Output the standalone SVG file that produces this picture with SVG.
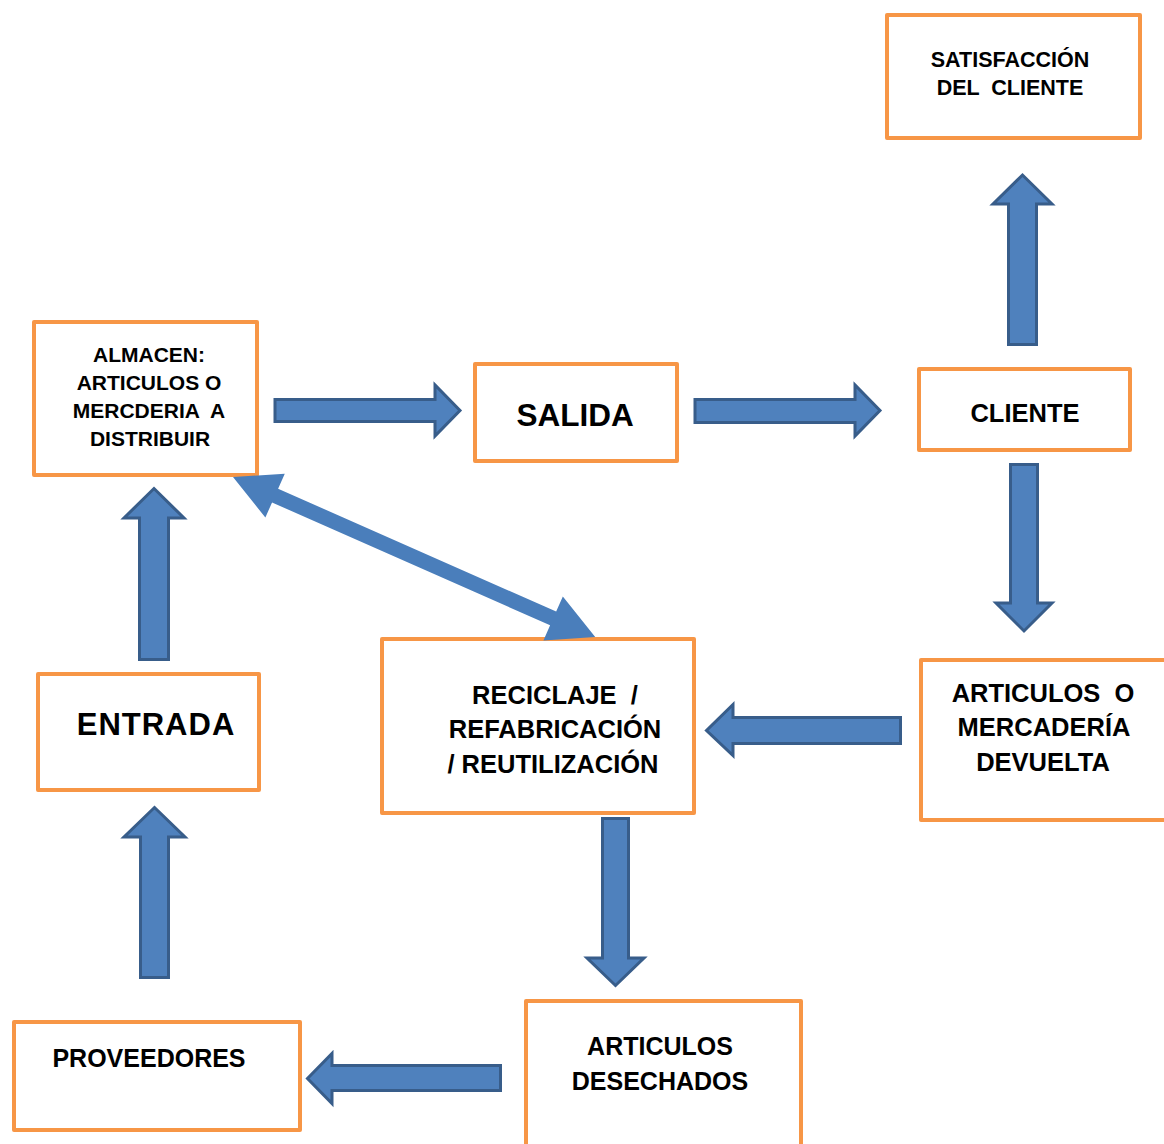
<svg xmlns="http://www.w3.org/2000/svg" width="1164" height="1144" viewBox="0 0 1164 1144">
<style>
.box{fill:#fff;stroke:#F79646;stroke-width:4;stroke-linejoin:round}
.t{font-family:"Liberation Sans",Arial,sans-serif;font-weight:bold;fill:#000;text-anchor:middle;white-space:pre}
.blk{fill:#4F81BD;stroke:#385D8A;stroke-width:3;stroke-linejoin:miter}
.dbl{fill:#4A7EBB}
</style>
<rect width="1164" height="1144" fill="#fff"/>
<g id="satisfaccion">
<rect class="box" x="887" y="15" width="253" height="123"/>
<text class="t" font-size="21.5" x="1010" y="67">SATISFACCIÓN</text>
<text class="t" font-size="21.5" x="1010" y="95">DEL  CLIENTE</text>
</g>
<g id="almacen">
<rect class="box" x="34" y="322" width="223" height="153"/>
<text class="t" font-size="21" x="149" y="362">ALMACEN:</text>
<text class="t" font-size="21" x="149" y="390">ARTICULOS O</text>
<text class="t" font-size="21" x="149" y="418">MERCDERIA  A</text>
<text class="t" font-size="21" x="150" y="446">DISTRIBUIR</text>
</g>
<g id="salida">
<rect class="box" x="475" y="364" width="202" height="97"/>
<text class="t" font-size="31.5" x="575" y="426">SALIDA</text>
</g>
<g id="cliente">
<rect class="box" x="919" y="369" width="211" height="81"/>
<text class="t" font-size="25.5" x="1025" y="422">CLIENTE</text>
</g>
<g id="devuelta">
<rect class="box" x="921" y="660" width="260" height="160"/>
<text class="t" font-size="25.5" x="1043" y="702">ARTICULOS  O</text>
<text class="t" font-size="25.5" x="1044" y="736">MERCADERÍA</text>
<text class="t" font-size="25.5" x="1043" y="771">DEVUELTA</text>
</g>
<g id="reciclaje">
<rect class="box" x="382" y="639" width="312" height="174"/>
<text class="t" font-size="25.5" x="555" y="704">RECICLAJE  /</text>
<text class="t" font-size="25.5" x="555" y="738">REFABRICACIÓN</text>
<text class="t" font-size="25.5" x="553" y="773">/ REUTILIZACIÓN</text>
</g>
<g id="entrada">
<rect class="box" x="38" y="674" width="221" height="116"/>
<text class="t" font-size="31" letter-spacing="1" x="156" y="735">ENTRADA</text>
</g>
<g id="proveedores">
<rect class="box" x="14" y="1022" width="286" height="108"/>
<text class="t" font-size="25" x="149" y="1067">PROVEEDORES</text>
</g>
<g id="desechados">
<rect class="box" x="526" y="1001" width="275" height="160"/>
<text class="t" font-size="25" x="660" y="1055">ARTICULOS</text>
<text class="t" font-size="25" x="660" y="1090">DESECHADOS</text>
</g>
<g id="connectors">
<polygon class="blk" points="275,399.5 435,399.5 435,385 460,410.5 435,436 435,421.5 275,421.5"/>
<polygon class="blk" points="695,399.5 855,399.5 855,385 880,410.5 855,436 855,422.5 695,422.5"/>
<polygon class="blk" points="1008.5,344.5 1008.5,204 993,204 1022.5,175 1052,204 1036.5,204 1036.5,344.5"/>
<polygon class="blk" points="1010.5,464.5 1037.5,464.5 1037.5,603 1052,603 1024,631 996,603 1010.5,603"/>
<polygon class="blk" points="900.5,717.5 733,717.5 733,704.5 706.5,730.5 733,755.5 733,743.5 900.5,743.5"/>
<polygon class="blk" points="602.5,818.5 628.5,818.5 628.5,958 644,958 615.5,985.5 587,958 602.5,958"/>
<polygon class="blk" points="500.5,1065.5 332,1065.5 332,1053.5 307.5,1078.5 332,1103.5 332,1090.5 500.5,1090.5"/>
<polygon class="blk" points="140.5,977.5 140.5,837 124,837 154.5,807.5 185,837 168.5,837 168.5,977.5"/>
<polygon class="blk" points="139.5,659.5 139.5,518 124,518 154,488.5 184,518 168.5,518 168.5,659.5"/>
<polygon class="dbl" transform="translate(233,477) rotate(23.84)" points="0,0 46,-24 46,-7.5 350,-7.5 350,-24 396,0 350,24 350,7.5 46,7.5 46,24"/>
</g>
</svg>
